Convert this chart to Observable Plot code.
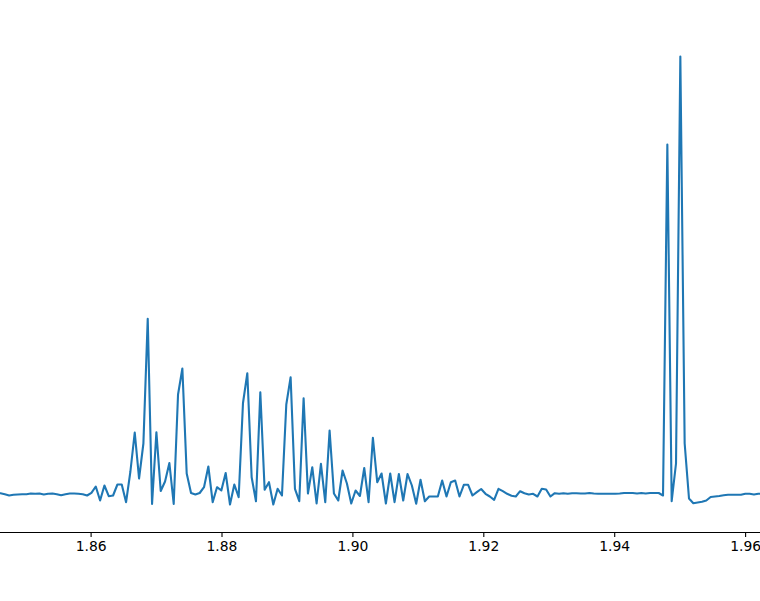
<!DOCTYPE html>
<html>
<head>
<meta charset="utf-8">
<script src="https://cdn.jsdelivr.net/npm/d3@7"></script>
<script src="https://cdn.jsdelivr.net/npm/@observablehq/plot@0.6"></script>
<style>
  html, body { margin: 0; padding: 0; background: #fff; }
  #chart { width: 760px; height: 601px; }
</style>
</head>
<body>
<div id="chart"></div>
<script>
// Sampling grid of the spectrum (x axis)
const xStart = 1.846157;
const xStep = 0.0006616;
const xMin = 1.846157;
const xMax = 1.962276;
const xTicks = [1.86, 1.88, 1.90, 1.92, 1.94, 1.96];

// Intensity values (arbitrary units)
const intensity = [
  0.393, 0.383, 0.370, 0.377, 0.380, 0.383, 0.383, 0.390, 0.387, 0.390,
  0.380, 0.387, 0.390, 0.383, 0.373, 0.383, 0.390, 0.390, 0.387, 0.383,
  0.370, 0.397, 0.460, 0.320, 0.470, 0.363, 0.370, 0.480, 0.480, 0.303,
  0.610, 1.000, 0.540, 0.890, 2.137, 0.285, 1.003, 0.415, 0.510, 0.695,
  0.285, 1.380, 1.640, 0.590, 0.395, 0.380, 0.395, 0.453, 0.660, 0.303,
  0.453, 0.420, 0.595, 0.280, 0.480, 0.353, 1.295, 1.593, 0.553, 0.312,
  1.403, 0.427, 0.503, 0.280, 0.437, 0.370, 1.280, 1.553, 0.437, 0.313,
  1.343, 0.390, 0.653, 0.290, 0.687, 0.303, 1.020, 0.390, 0.320, 0.620,
  0.490, 0.290, 0.420, 0.365, 0.645, 0.303, 0.947, 0.503, 0.590, 0.290,
  0.590, 0.303, 0.585, 0.320, 0.585, 0.470, 0.287, 0.527, 0.313, 0.360,
  0.360, 0.360, 0.520, 0.360, 0.503, 0.520, 0.360, 0.477, 0.477, 0.370,
  0.403, 0.435, 0.387, 0.360, 0.327, 0.437, 0.413, 0.387, 0.367, 0.360,
  0.413, 0.393, 0.380, 0.387, 0.360, 0.437, 0.430, 0.360, 0.393, 0.387,
  0.393, 0.387, 0.393, 0.393, 0.390, 0.390, 0.395, 0.390, 0.387, 0.387,
  0.387, 0.387, 0.387, 0.390, 0.395, 0.395, 0.395, 0.390, 0.395, 0.390,
  0.395, 0.395, 0.395, 0.370, 3.880, 0.313, 0.690, 4.760, 0.890, 0.340,
  0.293, 0.300, 0.307, 0.320, 0.355, 0.360, 0.365, 0.373, 0.377, 0.377,
  0.377, 0.377, 0.387, 0.387, 0.380, 0.387, 0.387
];

const data = intensity.map((v, i) => ({x: xStart + i * xStep, y: v}));

const chart = Plot.plot({
  width: 760,
  height: 601,
  marginLeft: 0,
  marginRight: 0,
  marginTop: 0,
  marginBottom: 69,
  style: {
    fontFamily: "DejaVu Sans, sans-serif",
    fontSize: "13.9px",
    background: "#ffffff",
    color: "#000000"
  },
  x: {domain: [xMin, xMax], range: [0, 760]},
  y: {domain: [0, 5.32], axis: null},
  marks: [
    Plot.line(data, {x: "x", y: "y", stroke: "#1f77b4", strokeWidth: 2.1, clip: true}),
    Plot.ruleY([0], {stroke: "#000000", strokeWidth: 1.1}),
    Plot.axisX({
      ticks: xTicks,
      tickFormat: d3.format(".2f"),
      tickSize: 5,
      tickPadding: 4,
      strokeWidth: 1.1,
      label: null
    })
  ]
});
document.getElementById("chart").appendChild(chart);
</script>
</body>
</html>
